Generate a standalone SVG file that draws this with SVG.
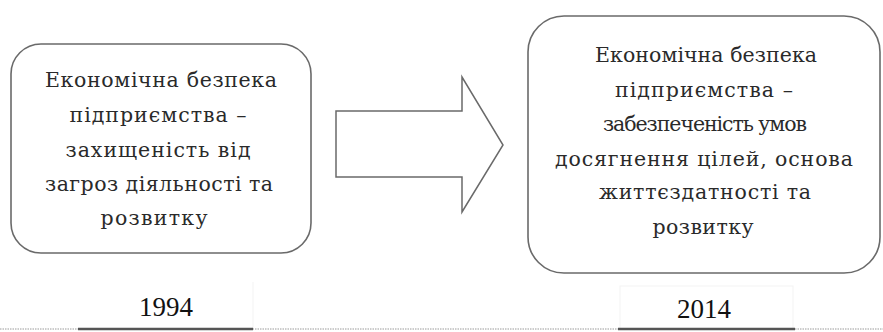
<svg xmlns="http://www.w3.org/2000/svg" width="883" height="332" viewBox="0 0 883 332">
  <style>
    .box { fill: #ffffff; stroke: #6a6a6a; stroke-width: 1.6; }
    .t { font-family: "DejaVu Serif", "Liberation Serif", serif; font-size: 20.5px; fill: #2a2a2a; text-anchor: middle; }
    .yr { font-family: "Liberation Serif", "Times New Roman", serif; font-size: 27px; fill: #111; text-anchor: middle; }
    .conn { fill: #ffffff; stroke: #6a6a6a; stroke-width: 1.5; stroke-linejoin: miter; }
    .base { stroke: #9a9a9a; stroke-width: 1; stroke-dasharray: 1.5 1; }
    .thick { stroke: #555; stroke-width: 2.5; }
    .cell { fill: none; stroke: #f3f3f3; stroke-width: 1; }
  </style>
  <rect width="883" height="332" fill="#ffffff"/>

  <g id="node-1994">
    <rect class="box" x="11" y="44" width="300" height="209" rx="30" ry="30"/>
    <text class="t" x="161" y="87" textLength="232" lengthAdjust="spacing">Економічна безпека</text>
    <text class="t" x="158" y="122" textLength="177" lengthAdjust="spacing">підприємства –</text>
    <text class="t" x="158" y="157" textLength="185" lengthAdjust="spacing">захищеність від</text>
    <text class="t" x="159" y="191" textLength="228" lengthAdjust="spacing">загроз діяльності та</text>
    <text class="t" x="154" y="225" textLength="107" lengthAdjust="spacing">розвитку</text>
  </g>

  <g id="connectors">
    <polygon class="conn" points="336,111 462,111 462,77 503,145 462,212 462,177 336,177"/>
  </g>

  <g id="node-2014">
    <rect class="box" x="528" y="16" width="352" height="257" rx="36" ry="36"/>
    <text class="t" x="706" y="62" textLength="222" lengthAdjust="spacing">Економічна безпека</text>
    <text class="t" x="704" y="97" textLength="178" lengthAdjust="spacing">підприємства –</text>
    <text class="t" x="705" y="131" textLength="204" lengthAdjust="spacing">забезпеченість умов</text>
    <text class="t" x="704" y="166" textLength="298" lengthAdjust="spacing">досягнення цілей, основа</text>
    <text class="t" x="705" y="199" textLength="212" lengthAdjust="spacing">життєздатності та</text>
    <text class="t" x="703" y="234" textLength="101" lengthAdjust="spacing">розвитку</text>
  </g>

  <g id="timeline">
    <line class="cell" x1="253" y1="282" x2="253" y2="329"/>
    <rect class="cell" x="620" y="286" width="173" height="43"/>
    <line class="base" x1="0" y1="329" x2="883" y2="329"/>
    <line class="thick" x1="78" y1="329" x2="253" y2="329"/>
    <line class="thick" x1="618" y1="329" x2="795" y2="329"/>
    <text class="yr" x="166" y="316">1994</text>
    <text class="yr" x="704" y="318">2014</text>
  </g>
</svg>
